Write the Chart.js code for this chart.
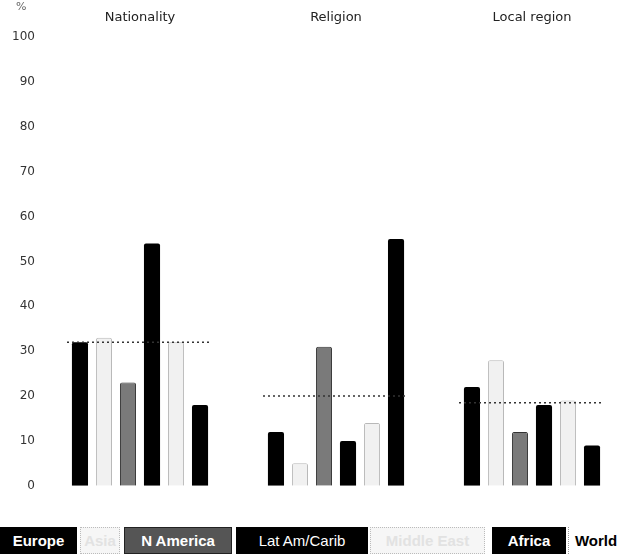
<!DOCTYPE html>
<html>
<head>
<meta charset="utf-8">
<script src="https://cdn.jsdelivr.net/npm/chart.js@4"></script>
<style>
  body { margin: 0; overflow: hidden; background: #fff; font-family: "Liberation Sans", Arial, sans-serif; }
  #wrap { position: relative; width: 630px; height: 500px; }
  #pct { position: absolute; left: 16px; top: 0px; font-size: 11px; color: #666; font-family: "DejaVu Sans", sans-serif; }
  #legend { position: absolute; left: 0; top: 527px; display: flex; height: 27px; }
  #legend span { display: inline-flex; align-items: center; justify-content: center; height: 27px; box-sizing: border-box; font-size: 15px; font-weight: bold; }
</style>
</head>
<body>
<div id="wrap">
  <canvas id="chart" width="630" height="500"></canvas>
  <span id="pct">%</span>
</div>
<div id="legend"></div>
<script>
document.addEventListener('DOMContentLoaded', function () {
    // categories and series (percent)
    var categories = ['Nationality', 'Religion', 'Local region'];
    var europe = [32, 12, 22];
    var asia = [33, 5, 28];
    var nAmerica = [23, 31, 12];
    var latAm = [54, 10, 18];
    var middleEast = [32, 14, 19];
    var africa = [18, 55, 9];
    var world = [32, 20, 18.5];
    var yTicks = [0, 10, 20, 30, 40, 50, 60, 70, 80, 90, 100];

    var light = '#f1f1f1';
    var lightBorder = '#b8b8b8';

    // dotted "World" line across each group
    var worldLine = {
        id: 'worldLine',
        afterDatasetsDraw: function (chart) {
            var x = chart.scales.x, y = chart.scales.y, c = chart.ctx;
            c.save();
            c.strokeStyle = '#333';
            c.lineWidth = 1.5;
            c.setLineDash([2, 3]);
            world.forEach(function (v, i) {
                var cx = x.getPixelForValue(i);
                var py = y.getPixelForValue(v);
                c.beginPath();
                c.moveTo(cx - 73, py);
                c.lineTo(cx + 70, py);
                c.stroke();
            });
            c.restore();
        }
    };

    var ctx = document.getElementById('chart').getContext('2d');
    var chart = new Chart(ctx, {
        type: 'bar',
        data: {
            labels: categories,
            datasets: [
                { label: 'Europe', data: europe, backgroundColor: '#000' },
                { label: 'Asia', data: asia, backgroundColor: light, borderColor: lightBorder, borderWidth: 1 },
                { label: 'N America', data: nAmerica, backgroundColor: '#7a7a7a', borderColor: '#333', borderWidth: 1 },
                { label: 'Lat Am/Carib', data: latAm, backgroundColor: '#000' },
                { label: 'Middle East', data: middleEast, backgroundColor: light, borderColor: lightBorder, borderWidth: 1 },
                { label: 'Africa', data: africa, backgroundColor: '#000' }
            ]
        },
        options: {
            responsive: false,
            animation: false,
            layout: { padding: { left: 0, right: 0, top: 0, bottom: 7 } },
            datasets: { bar: { categoryPercentage: 0.735, barPercentage: 0.67, borderRadius: 2 } },
            scales: {
                x: {
                    position: 'top',
                    grid: { display: false },
                    border: { display: false },
                    ticks: { color: '#222', padding: 4, font: { family: 'DejaVu Sans', size: 13 } },
                    afterFit: function (s) { s.height = 37; }
                },
                y: {
                    min: 0,
                    max: 100,
                    grid: { display: false, drawTicks: false },
                    border: { display: false },
                    afterBuildTicks: function (s) { s.ticks = yTicks.map(function (v) { return { value: v }; }); },
                    ticks: { color: '#333', padding: 7, font: { family: 'DejaVu Sans', size: 12 } },
                    afterFit: function (s) { s.width = 42; }
                }
            },
            plugins: {
                legend: { display: false },
                tooltip: { enabled: false }
            }
        },
        plugins: [worldLine]
    });

    // legend strip along the bottom
    var legendItems = [
        { text: 'Europe', w: 77, bg: '#000', fg: '#fff', border: 'none' },
        { text: 'Asia', w: 40, bg: '#f6f6f6', fg: '#e2e2e2', border: '1px dotted #bbb' },
        { text: 'N America', w: 108, bg: '#555', fg: '#fff', border: '1px solid #222' },
        { text: 'Lat Am/Carib', w: 132, bg: '#000', fg: '#fff', border: 'none', weight: 'normal' },
        { text: 'Middle East', w: 115, bg: '#f6f6f6', fg: '#e2e2e2', border: '1px dotted #bbb' },
        { text: 'Africa', w: 74, bg: '#000', fg: '#fff', border: 'none' },
        { text: 'World', w: 55, bg: '#fff', fg: '#000', border: 'none' }
    ];
    var gaps = [3, 4, 4, 2, 7, 2, 0];
    var box = document.getElementById('legend');
    legendItems.forEach(function (it, i) {
        var s = document.createElement('span');
        s.textContent = it.text;
        s.style.width = it.w + 'px';
        s.style.background = it.bg;
        s.style.color = it.fg;
        s.style.border = it.border;
        s.style.marginRight = gaps[i] + 'px';
        if (it.weight) s.style.fontWeight = it.weight;
        if (it.text === 'World') s.style.borderLeft = '1px dotted #999';
        box.appendChild(s);
    });
});
</script>
</body>
</html>
